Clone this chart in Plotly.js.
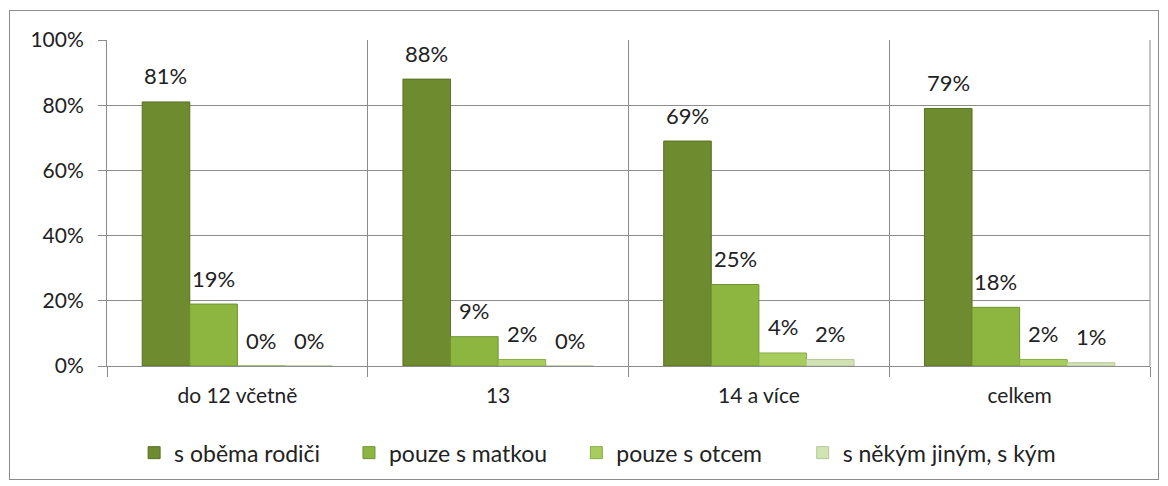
<!DOCTYPE html>
<html>
<head>
<meta charset="utf-8">
<script src="https://cdn.plot.ly/plotly-3.0.1.min.js"></script>
<style>
html,body{margin:0;padding:0;background:#fff;}
#wrap{position:relative;width:1168px;height:486px;}
#chart{position:absolute;left:0;top:0;width:1168px;height:486px;}
#frame{position:absolute;left:9px;top:10px;width:1150px;height:470px;border:1px solid #8c8c8c;box-sizing:border-box;pointer-events:none;}
</style>
</head>
<body>
<div id="wrap"><div id="chart"></div><div id="frame"></div></div>
<script>
const categories = ["do 12 včetně", "13", "14 a více", "celkem"];
const seriesNames = ["s oběma rodiči", "pouze s matkou", "pouze s otcem", "s někým jiným, s kým"];
const bothParents = [81, 88, 69, 79];
const motherOnly = [19, 9, 25, 18];
const fatherOnly = [0, 2, 4, 2];
const someoneElse = [0, 0, 2, 1];
const yTickVals = [0, 20, 40, 60, 80, 100];
const yTickText = ["0%", "20%", "40%", "60%", "80%", "100%"];

const seriesValues = [bothParents, motherOnly, fatherOnly, someoneElse];
const colors = ["#6e8c2f", "#8cb640", "#a8cd5e", "#d2e3b3"];
const lines = ["#587124", "#6f9432", "#88ad45", "#b5c99a"];
const legendX = [0.026, 0.232, 0.45, 0.667];

const W = 1168, H = 486;
const margin = {l: 107, r: 18, t: 40, b: 120};
const bargap = 0.27;
const plotW = W - margin.l - margin.r;
const barW = plotW / categories.length * (1 - bargap) / seriesValues.length;
const legendIds = ["legend", "legend2", "legend3", "legend4"];

const traces = seriesValues.map((vals, i) => ({
  type: "bar",
  name: seriesNames[i],
  legend: legendIds[i],
  x: categories,
  y: vals,
  marker: {color: colors[i], line: {color: lines[i], width: 1}},
  hoverinfo: "none"
}));

const annotations = [];
seriesValues.forEach((vals, i) => {
  vals.forEach((v, j) => {
    annotations.push({
      x: j, y: v, xref: "x", yref: "y",
      text: v + "%", showarrow: false,
      xanchor: "center", yanchor: "middle",
      xshift: (i - (seriesValues.length - 1) / 2) * barW,
      yshift: 26,
      font: {family: "Lato, 'Open Sans', sans-serif", size: 22, color: "#222"}
    });
  });
});

const layout = {
  width: W, height: H,
  margin: margin,
  paper_bgcolor: "#fff", plot_bgcolor: "#fff",
  barmode: "group", bargap: bargap, bargroupgap: 0,
  font: {family: "Lato, 'Open Sans', sans-serif", size: 21, color: "#222"},
  showlegend: true,
  xaxis: {type: "category", tickson: "boundaries", ticks: "outside", ticklen: 10,
          tickcolor: "#8c8c8c", showgrid: true, gridcolor: "#8c8c8c", gridwidth: 1,
          showline: true, linecolor: "#8c8c8c", linewidth: 1, mirror: false,
          range: [-0.5, categories.length - 0.5],
          tickfont: {size: 21}, ticklabelstandoff: 11, tickangle: 0, fixedrange: true},
  yaxis: {range: [0, 100], tickvals: yTickVals, ticktext: yTickText, ticks: "outside",
          ticklen: 8, tickcolor: "#8c8c8c", showgrid: true, gridcolor: "#8c8c8c",
          showline: true, linecolor: "#8c8c8c", zeroline: false, tickfont: {size: 21},
          ticklabelstandoff: 10, fixedrange: true},
  annotations: annotations,
  shapes: [{type: "line", xref: "paper", yref: "paper", x0: 1, x1: 1, y0: 0, y1: 1,
            line: {color: "#8c8c8c", width: 1}}]
};
legendIds.forEach((id, i) => {
  layout[id] = {orientation: "h", x: legendX[i], xanchor: "left", y: -0.2, yanchor: "top",
                font: {size: 23}, itemwidth: 30, bgcolor: "rgba(0,0,0,0)"};
});

Plotly.newPlot("chart", traces, layout, {displayModeBar: false, staticPlot: true});
</script>
</body>
</html>
